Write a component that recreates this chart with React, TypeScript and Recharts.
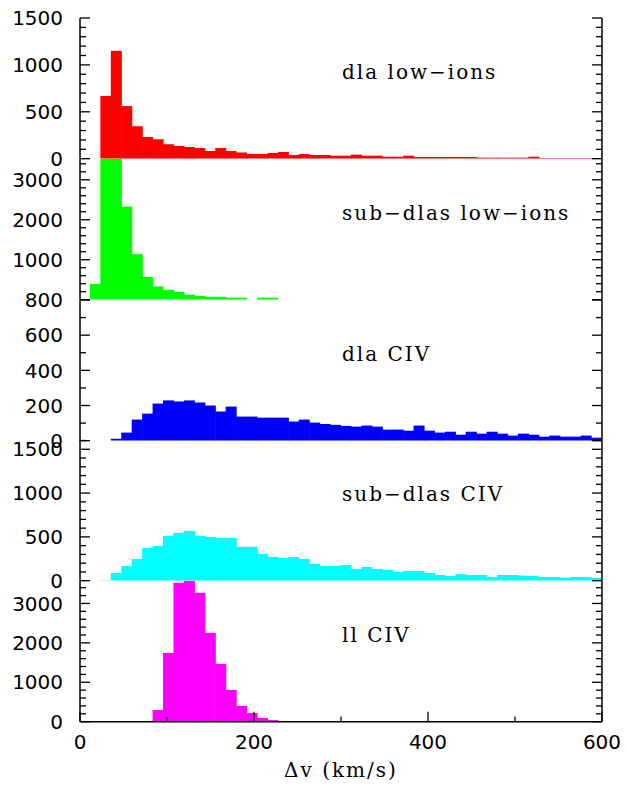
import React from "react"
import { BarChart, Bar, XAxis, YAxis } from "recharts"

// histogram bins, 12 km/s wide (left edges)
const binStarts = [
  0, 12, 24, 36, 48, 60, 72, 84, 96, 108, 120, 132, 144, 156, 168, 180, 192, 204, 216, 228,
  240, 252, 264, 276, 288, 300, 312, 324, 336, 348, 360, 372, 384, 396, 408, 420, 432, 444, 456, 468,
  480, 492, 504, 516, 528, 540, 552, 564, 576, 588,
]
const binWidth = 12

const dlaLowIons = [
  0, 0, 668, 1150, 561, 346, 232, 207, 154, 136, 125, 114, 82, 114, 82, 66, 50, 50, 61, 71,
  39, 50, 39, 39, 32, 32, 43, 32, 32, 21, 21, 32, 18, 18, 18, 18, 18, 18, 11, 11,
  11, 11, 11, 21, 7, 7, 7, 7, 7, 7,
]
const subDlasLowIons = [
  0, 396, 3900, 3700, 2329, 1140, 570, 330, 248, 198, 124, 99, 74, 74, 50, 50, 0, 50, 50, 0,
  0, 0, 0, 0, 0, 0, 0, 0, 0, 0, 0, 0, 0, 0, 0, 0, 0, 0, 0, 0,
  0, 0, 0, 0, 0, 0, 0, 0, 0, 0,
]
const dlaCIV = [
  0, 0, 0, 11, 46, 120, 154, 211, 229, 223, 229, 217, 200, 166, 194, 137, 137, 131, 131, 131,
  109, 120, 103, 95, 90, 84, 80, 86, 80, 63, 63, 57, 86, 57, 46, 51, 34, 51, 40, 51,
  40, 29, 40, 34, 23, 29, 23, 23, 29, 17,
]
const subDlasCIV = [
  0, 0, 5, 88, 168, 248, 374, 397, 511, 546, 569, 511, 500, 489, 489, 386, 386, 305, 271, 260,
  271, 248, 191, 168, 168, 179, 134, 156, 134, 122, 99, 111, 111, 88, 65, 53, 76, 65, 65, 42,
  65, 65, 57, 53, 42, 42, 34, 42, 42, 30,
]
const llCIV = [
  10, 0, 0, 0, 0, 0, 10, 296, 1745, 3524, 3700, 3270, 2253, 1465, 805, 398, 220, 93, 42, 12,
  12, 12, 12, 12, 0, 0, 0, 0, 0, 0, 0, 0, 0, 0, 0, 0, 0, 0, 0, 0,
  0, 0, 0, 0, 0, 0, 0, 0, 0, 0,
]

const xTickLabels = [0, 200, 400, 600]
const xTicks = [0, 100, 200, 300, 400, 500, 600]

const dlaLowLabels = [0, 500, 1000, 1500]
const subLowLabels = [1000, 2000, 3000]
const dlaCivLabels = [0, 200, 400, 600, 800]
const subCivLabels = [0, 500, 1000, 1500]
const llCivLabels = [0, 1000, 2000, 3000]

const panels = [
  { title: "dla low\u2212ions", values: dlaLowIons, color: "#ff0000", yMax: 1500, major: 500, minor: 100, labels: dlaLowLabels },
  { title: "sub\u2212dlas low\u2212ions", values: subDlasLowIons, color: "#00ff00", yMax: 3520, major: 1000, minor: 200, labels: subLowLabels },
  { title: "dla CIV", values: dlaCIV, color: "#0000ff", yMax: 800, major: 200, minor: 100, labels: dlaCivLabels },
  { title: "sub\u2212dlas CIV", values: subDlasCIV, color: "#00ffff", yMax: 1606, major: 500, minor: 100, labels: subCivLabels },
  { title: "ll CIV", values: llCIV, color: "#ff00ff", yMax: 3570, major: 1000, minor: 200, labels: llCivLabels },
]

const W = 626
const H = 789
const PLOT_W = 522
const PANEL_TOP = 18.3
const PANEL_H = 140.7
const M = 14
const LAST_AXIS_H = 64
const tickFont = "'DejaVu Sans', sans-serif"
const labelFont = "'DejaVu Serif', serif"
const axisLine = { stroke: "#000", strokeWidth: 1.5 }
const binPx = (binWidth / 600) * PLOT_W

const makeTicks = (max: number, step: number) => {
  const out: number[] = []
  for (let v = 0; v <= max + 0.001; v += step) out.push(v)
  return out
}

// bars are centred on the bin centre by the x scale; widen them to the full bin
const HistBar = (props: any) => {
  const { x, y, width, height, fill } = props
  if (!height || height <= 0) return <g />
  const cx = Number(x) + Number(width) / 2
  return <rect x={cx - binPx / 2 - 0.3} y={y} width={binPx + 0.6} height={height} fill={fill} />
}

const xTick = (dir: number, showLabels: boolean) => (props: any) => {
  const x = Number(props.x)
  const y = Number(props.y)
  const v = Number(props.payload.value)
  const len = v % 200 === 0 ? 10 : 5
  return (
    <g>
      <rect x={x - 0.65} y={dir > 0 ? y : y - len} width={1.3} height={len} fill="#000" />
      {showLabels && xTickLabels.includes(v) && (
        <text x={x} y={y + 27} textAnchor="middle" fontFamily={tickFont} fontSize={20} fill="#000">
          {v}
        </text>
      )}
    </g>
  )
}

const yTick = (dir: number, major: number, labels: number[] | null) => (props: any) => {
  const x = Number(props.x)
  const y = Number(props.y)
  const v = Number(props.payload.value)
  const len = v % major === 0 ? 10 : 6
  return (
    <g>
      <rect x={dir > 0 ? x : x - len} y={y - 0.65} width={len} height={1.3} fill="#000" />
      {labels && labels.includes(v) && (
        <text x={x - 17} y={y} dy="0.36em" textAnchor="end" fontFamily={tickFont} fontSize={20} fill="#000">
          {v}
        </text>
      )}
    </g>
  )
}

function Panel({ p, index, last }: { p: (typeof panels)[number]; index: number; last: boolean }) {
  const data = binStarts.map((s, i) => ({ x: s + binWidth / 2, v: p.values[i] }))
  const bottomH = last ? LAST_AXIS_H : 0
  const height = M + PANEL_H + bottomH + M
  const top = PANEL_TOP + index * PANEL_H - M
  const yTicks = makeTicks(p.yMax, p.minor)
  return (
    <div style={{ position: "absolute", left: 0, top }}>
      <BarChart
        width={W}
        height={height}
        data={data}
        margin={{ top: M, right: 0, bottom: M, left: 0 }}
        barCategoryGap={0}
        barGap={0}
      >
        <XAxis
          xAxisId="b"
          dataKey="x"
          type="number"
          domain={[0, 600]}
          ticks={xTicks}
          interval={0}
          orientation="bottom"
          height={bottomH}
          tickSize={0}
          tickMargin={0}
          tickLine={false}
          axisLine={axisLine}
          tick={xTick(-1, last)}
          allowDataOverflow
        />
        <XAxis
          xAxisId="t"
          dataKey="x"
          type="number"
          domain={[0, 600]}
          ticks={xTicks}
          interval={0}
          orientation="top"
          height={0}
          tickSize={0}
          tickMargin={0}
          tickLine={false}
          axisLine={axisLine}
          tick={xTick(1, false)}
          allowDataOverflow
        />
        <YAxis
          yAxisId="l"
          type="number"
          domain={[0, p.yMax]}
          ticks={yTicks}
          interval={0}
          width={80}
          tickSize={0}
          tickMargin={0}
          tickLine={false}
          axisLine={axisLine}
          tick={yTick(1, p.major, p.labels)}
          allowDataOverflow
        />
        <YAxis
          yAxisId="r"
          orientation="right"
          type="number"
          domain={[0, p.yMax]}
          ticks={yTicks}
          interval={0}
          width={24}
          tickSize={0}
          tickMargin={0}
          tickLine={false}
          axisLine={axisLine}
          tick={yTick(-1, p.major, null)}
          allowDataOverflow
        />
        <Bar
          xAxisId="b"
          yAxisId="l"
          dataKey="v"
          fill={p.color}
          barSize={10}
          shape={HistBar}
          isAnimationActive={false}
        />
      </BarChart>
    </div>
  )
}

export default function App() {
  return (
    <div style={{ position: "absolute", left: 0, top: 0, width: W, height: H, background: "#fff" }}>
      {panels.map((p, i) => (
        <Panel key={p.title} p={p} index={i} last={i === panels.length - 1} />
      ))}
      <svg width={W} height={H} style={{ position: "absolute", left: 0, top: 0, pointerEvents: "none" }}>
        {panels.map((p, i) => (
          <text
            key={p.title}
            x={342}
            y={PANEL_TOP + i * PANEL_H + 61}
            fontFamily={labelFont}
            fontSize={20}
            letterSpacing={2}
            fill="#000"
          >
            {p.title}
          </text>
        ))}
        <text x={341} y={777} textAnchor="middle" fontFamily={labelFont} fontSize={20} letterSpacing={2} fill="#000">
          {"\u0394v (km/s)"}
        </text>
      </svg>
    </div>
  )
}
